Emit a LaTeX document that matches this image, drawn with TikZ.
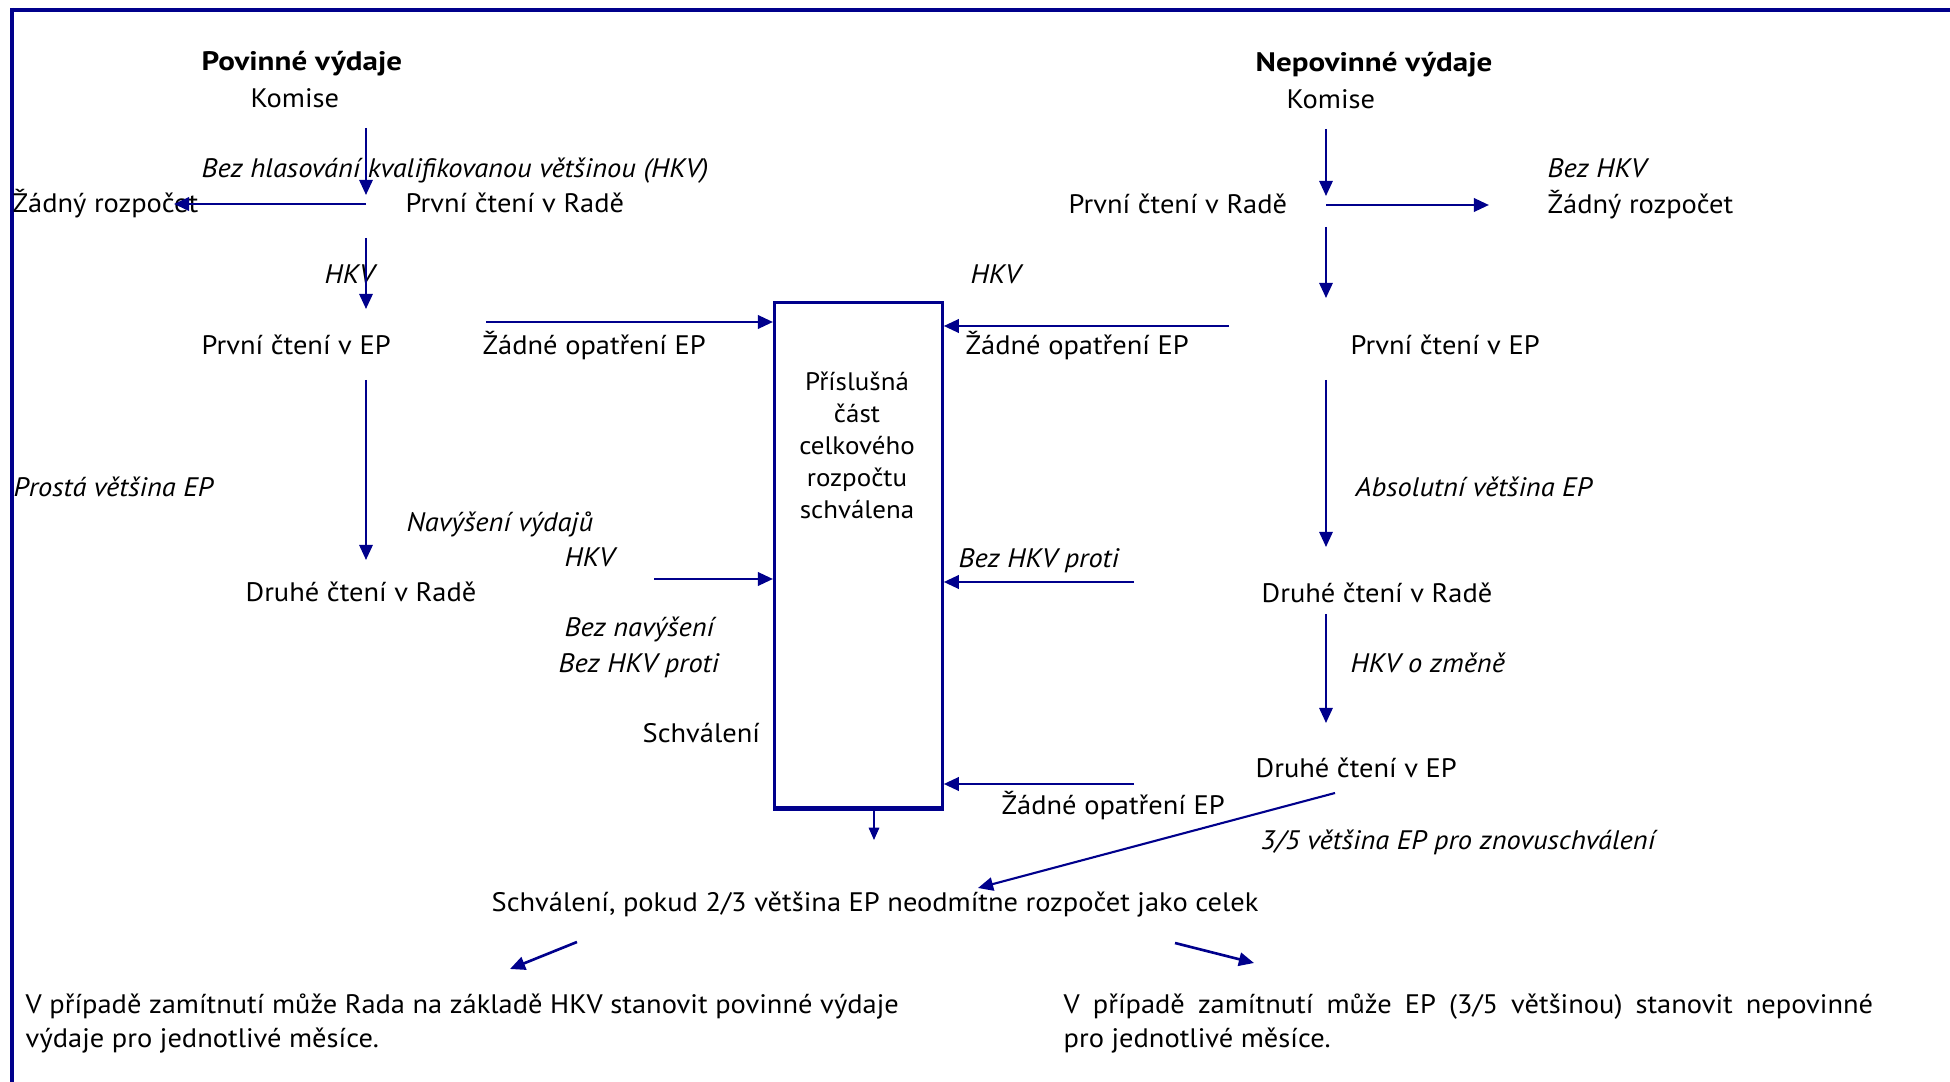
\documentclass[tikz,border=0pt]{standalone}
\usepackage{fontspec}
\setmainfont{PT Sans}[FakeStretch=1.065]
\newfontfamily\boldwide{PT Sans}[FakeStretch=1.16]
\usetikzlibrary{arrows.meta}
\definecolor{navyline}{RGB}{0,0,140}
\begin{document}
\begin{tikzpicture}[x=0.01cm,y=-0.01cm,
 lbl/.style={anchor=west,inner sep=0pt,font=\fontsize{7.6}{9}\selectfont,text height=5.3pt,text depth=0pt},
 lbli/.style={lbl,font=\fontsize{7.6}{9}\selectfont\itshape},
 lblb/.style={lbl,font=\boldwide\fontsize{7.6}{9}\selectfont\bfseries},
 flow/.style={draw=navyline,line width=0.6pt,-{Triangle[length=4.3pt,width=3.8pt]}},
 boxstyle/.style={draw=navyline,line width=0.75pt},
]
\useasboundingbox (0,0) rectangle (1950,1082);
% frame
\draw[navyline,line width=1.4pt] (1950,10) -- (12,10);
\draw[navyline,line width=1pt] (12,8) -- (12,1082);

% left column
\node[lblb] (pov) at (201,61) {Povinné výdaje};
\node[lbl] (komL) at (250,98) {Komise};
\node[lbli] (hkvq) at (201,168) {Bez hlasování kvalifikovanou většinou (HKV)};
\node[lbl] (radaL) at (405,203) {První čtení v Radě};
\node[lbl] (zrL) at (12,203) {Žádný rozpočet};
\node[lbli] (hkvL) at (324,274) {HKV};
\node[lbl] (epL) at (201,345) {První čtení v EP};
\node[lbl] (zoL) at (482,345) {Žádné opatření EP};
\node[lbli] (prosta) at (13,487) {Prostá většina EP};
\node[lbli] (navys) at (406,522) {Navýšení výdajů};
\node[lbli] (hkv2) at (564,557) {HKV};
\node[lbl] (druhyL) at (245,592) {Druhé čtení v Radě};
\node[lbli] (beznav) at (564,627) {Bez navýšení};
\node[lbli] (bezproL) at (558,663) {Bez HKV proti};
\node[lbl] (schv) at (642,733) {Schválení};

% right column
\node[lblb] (nepov) at (1255,62) {Nepovinné výdaje};
\node[lbl] (komR) at (1286,99) {Komise};
\node[lbl] (radaR) at (1068,204) {První čtení v Radě};
\node[lbli] (bezhkv) at (1547,168) {Bez HKV};
\node[lbl] (zrR) at (1547,204) {Žádný rozpočet};
\node[lbli] (hkvR) at (970,274) {HKV};
\node[lbl] (zoR) at (965,345) {Žádné opatření EP};
\node[lbl] (epR) at (1350,345) {První čtení v EP};
\node[lbli] (absol) at (1355,487) {Absolutní většina EP};
\node[lbli] (bezproR) at (958,558) {Bez HKV proti};
\node[lbl] (druhyR) at (1261,593) {Druhé čtení v Radě};
\node[lbli] (hkvzm) at (1350,663) {HKV o změně};
\node[lbl] (druhyEP) at (1255,768) {Druhé čtení v EP};
\node[lbl] (zoR2) at (1001,805) {Žádné opatření EP};
\node[lbli] (tri) at (1260,840) {3/5 většina EP pro znovuschválení};
\node[lbl] (final) at (491,902) {Schválení, pokud 2/3 většina EP neodmítne rozpočet jako celek};

% bottom paragraphs
\node[lbl] (parL1) at (25,1004) {V případě zamítnutí může Rada na základě HKV stanovit povinné výdaje};
\node[lbl] (parL2) at (25,1038) {výdaje pro jednotlivé měsíce.};
\node[lbl] (parR1) at (1063,1004) {\makebox[8.09cm][s]{V případě zamítnutí může EP (3/5 většinou) stanovit nepovinné}};
\node[lbl] (parR2) at (1063,1038) {pro jednotlivé měsíce.};

% central box
\node[boxstyle,minimum width=1.68cm,minimum height=5.05cm,inner sep=0pt,anchor=north west] (box) at (773,301) {};
\draw[navyline,line width=1.1pt] (box.south west) -- (box.south east);
\node[align=center,inner sep=0pt,font=\fontsize{7.2}{9.1}\selectfont] (boxtxt) at (857,445) {Příslušná\\část\\celkového\\rozpočtu\\schválena};

% arrow end points
\coordinate (a1s) at (366,128); \coordinate (a1e) at (366,195);
\coordinate (a2s) at (366,204); \coordinate (a2e) at (174,204);
\coordinate (a3s) at (366,238); \coordinate (a3e) at (366,309);
\coordinate (a4s) at (486,322); \coordinate (a4e) at (box.west |- 0,322);
\coordinate (a5s) at (366,380); \coordinate (a5e) at (366,560);
\coordinate (a6s) at (654,579); \coordinate (a6e) at (box.west |- 0,579);
\coordinate (a7s) at (1326,129); \coordinate (a7e) at (1326,196);
\coordinate (a8s) at (1326,205); \coordinate (a8e) at (1489,205);
\coordinate (a9s) at (1326,227); \coordinate (a9e) at (1326,298);
\coordinate (a10s) at (1229,326); \coordinate (a10e) at (box.east |- 0,326);
\coordinate (a11s) at (1326,380); \coordinate (a11e) at (1326,547);
\coordinate (a12s) at (1134,582); \coordinate (a12e) at (box.east |- 0,582);
\coordinate (a13s) at (1326,614); \coordinate (a13e) at (1326,723);
\coordinate (a14s) at (1134,784); \coordinate (a14e) at (box.east |- 0,784);
\coordinate (a15s) at (874,806); \coordinate (a15e) at (874,840);
\coordinate (a16s) at (1335,793); \coordinate (a16e) at (978,888);
\coordinate (a17s) at (577,942); \coordinate (a17e) at (510,969);
\coordinate (a18s) at (1175,943); \coordinate (a18e) at (1254,963);

\draw[flow] (a1s) -- (a1e);
\draw[flow,line width=0.75pt] (a2s) -- (a2e);
\draw[flow] (a3s) -- (a3e);
\draw[flow,line width=0.75pt] (a4s) -- (a4e);
\draw[flow] (a5s) -- (a5e);
\draw[flow,line width=0.75pt] (a6s) -- (a6e);
\draw[flow] (a7s) -- (a7e);
\draw[flow,line width=0.75pt] (a8s) -- (a8e);
\draw[flow] (a9s) -- (a9e);
\draw[flow,line width=0.75pt] (a10s) -- (a10e);
\draw[flow] (a11s) -- (a11e);
\draw[flow,line width=0.75pt] (a12s) -- (a12e);
\draw[flow] (a13s) -- (a13e);
\draw[flow,line width=0.75pt] (a14s) -- (a14e);
\draw[flow,line width=0.4pt,-{Triangle[length=3.5pt,width=3pt]}] (a15s) -- (a15e);
\draw[flow] (a16s) -- (a16e);
\draw[flow,line width=0.75pt] (a17s) -- (a17e);
\draw[flow,line width=0.75pt] (a18s) -- (a18e);
\end{tikzpicture}
\end{document}
